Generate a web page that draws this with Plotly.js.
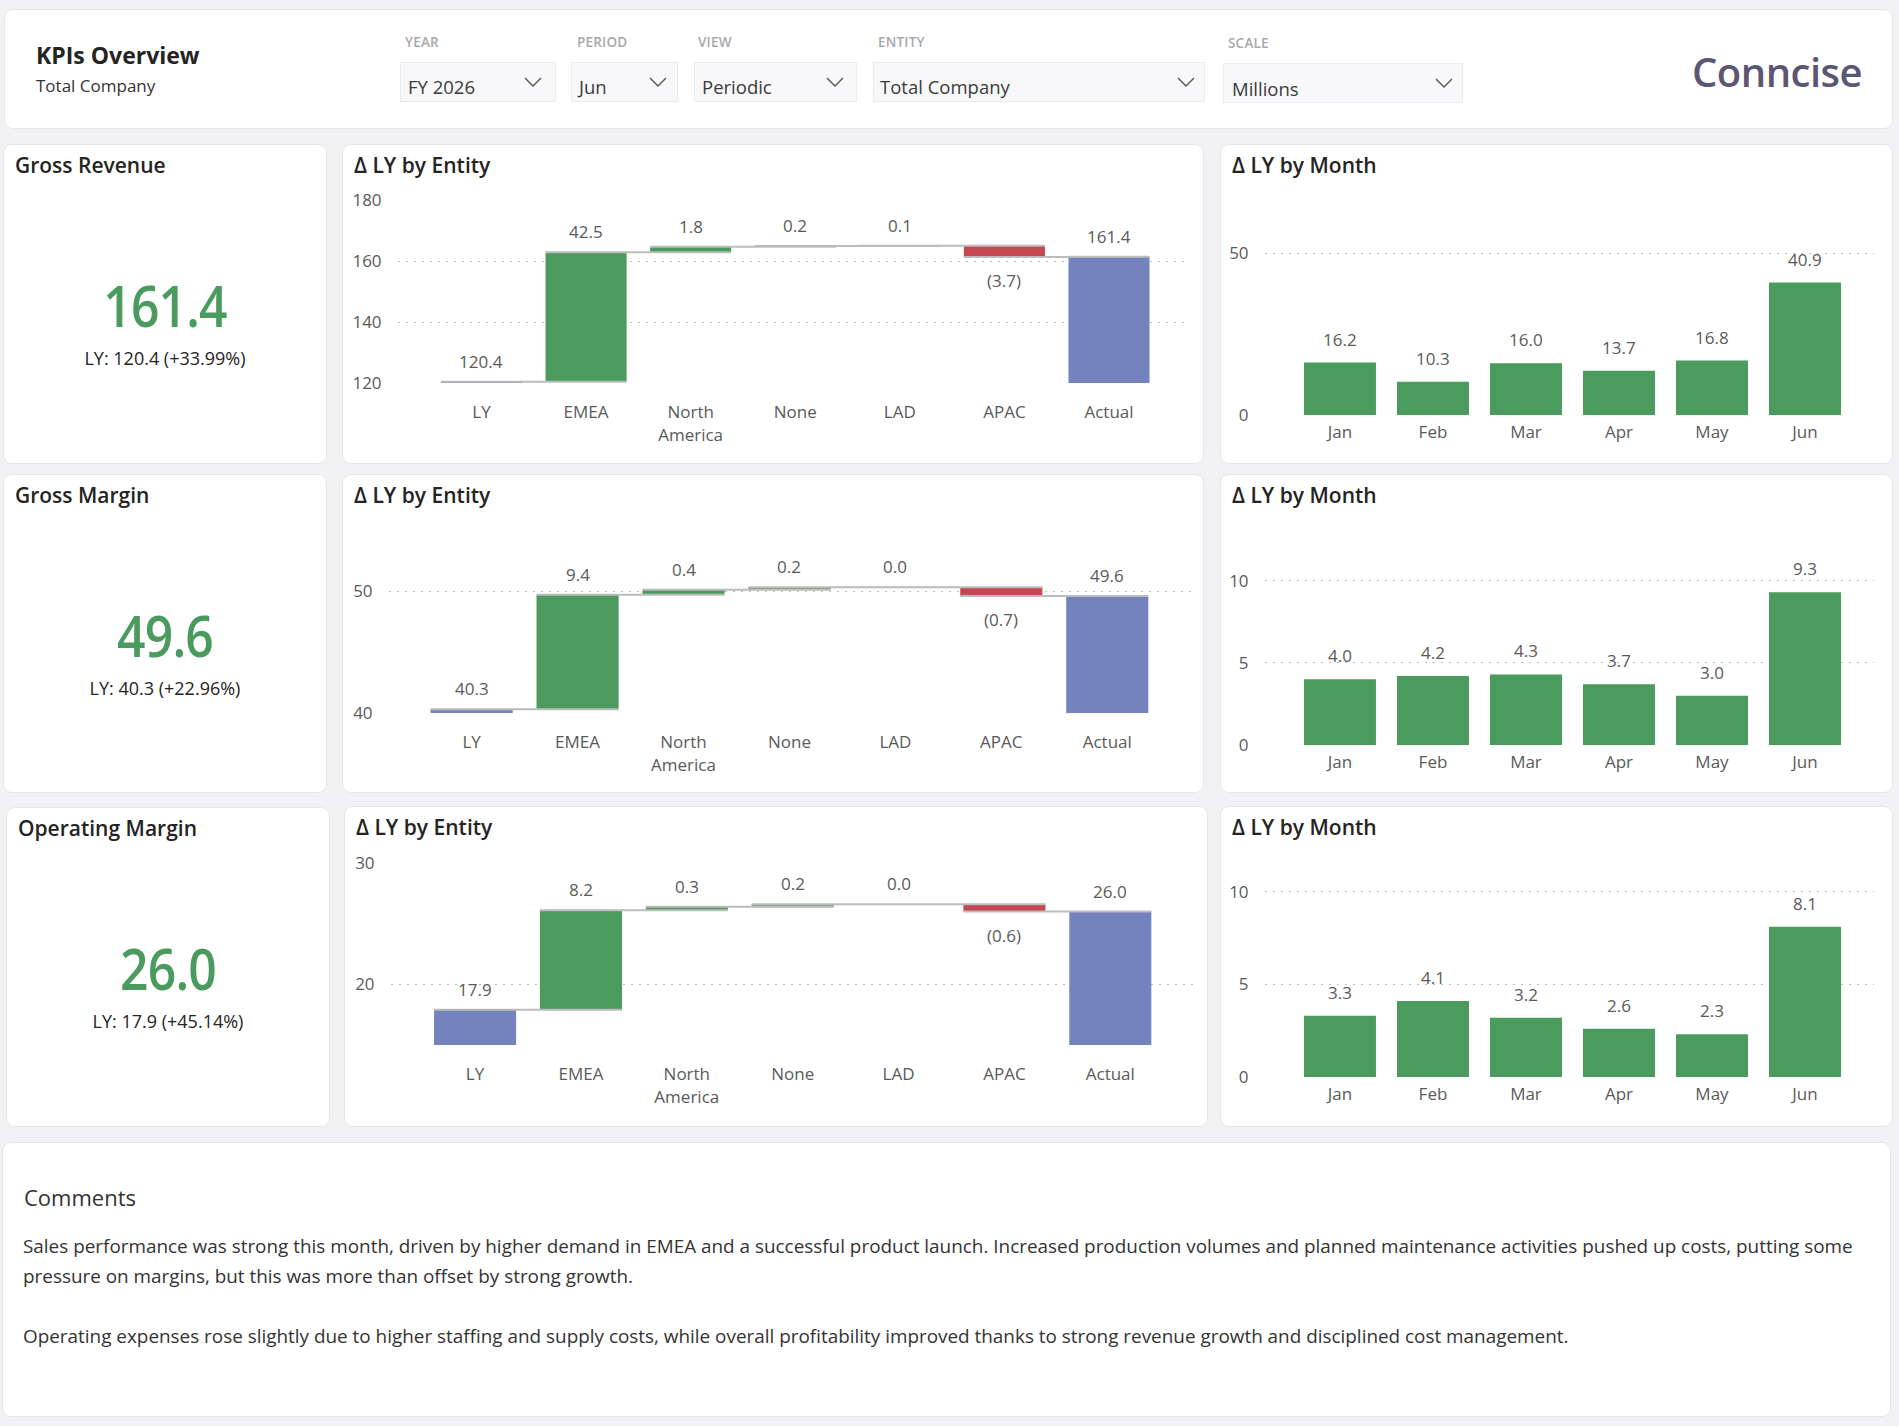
<!DOCTYPE html>
<html>
<head>
<meta charset="utf-8">
<script src="https://cdn.plot.ly/plotly-3.0.1.min.js"></script>
<style>
html,body{margin:0;padding:0;background:#f2f2f4;width:1899px;height:1426px;overflow:hidden;
  font-family:"Open Sans","Noto Sans",sans-serif;color:#252423;}
.card{position:absolute;background:#fff;border-radius:8px;box-shadow:0 0 0 1px #e7e7eb;}
.t{position:absolute;white-space:nowrap;line-height:1;transform:translateY(-50%);}
.tc{position:absolute;white-space:nowrap;line-height:1;transform:translate(-50%,-50%);}
.lbl{font-size:13.5px;font-weight:600;color:#a8a8ac;letter-spacing:0.2px;}
.dd{position:absolute;background:#f8f8fa;border:1px solid #ececef;box-sizing:border-box;}
.ddtext{font-size:18.5px;color:#3b3b3b;}
.title{font-size:21px;font-weight:600;color:#252423;}
.plot{position:absolute;}
.big{font-size:58px;font-weight:600;color:#4b9b5f;letter-spacing:-1px;}
.ly{font-size:18px;color:#252423;}
.para{font-size:18.9px;color:#333;}
</style>
</head>
<body>
<script>
// ---------------- DATA ----------------
const entityLabels = ['LY', 'EMEA', 'North<br>America', 'None', 'LAD', 'APAC', 'Actual'];
const bridgeMeasure = ['absolute', 'relative', 'relative', 'relative', 'relative', 'relative', 'absolute'];
const revenueBridge = [120.4, 42.5, 1.8, 0.2, 0.1, -3.7, 161.4];
const grossMarginBridge = [40.3, 9.4, 0.4, 0.2, 0.0, -0.7, 49.6];
const opMarginBridge = [17.9, 8.2, 0.3, 0.2, 0.0, -0.6, 26.0];

const monthLabels = ['Jan', 'Feb', 'Mar', 'Apr', 'May', 'Jun'];
const revenueByMonth = [16.2, 10.3, 16.0, 13.7, 16.8, 40.9];
const grossMarginByMonth = [4.0, 4.2, 4.3, 3.7, 3.0, 9.3];
const opMarginByMonth = [3.3, 4.1, 3.2, 2.6, 2.3, 8.1];

const kpiNames = ['Gross Revenue', 'Gross Margin', 'Operating Margin'];
const kpiActual = ['161.4', '49.6', '26.0'];
const kpiLY = ['120.4', '40.3', '17.9'];
const kpiChange = ['+33.99%', '+22.96%', '+45.14%'];

const filterLabels = ['YEAR', 'PERIOD', 'VIEW', 'ENTITY', 'SCALE'];
const filterValues = ['FY 2026', 'Jun', 'Periodic', 'Total Company', 'Millions'];

const commentLines = [
  'Sales performance was strong this month, driven by higher demand in EMEA and a successful product launch. Increased production volumes and planned maintenance activities pushed up costs, putting some',
  'pressure on margins, but this was more than offset by strong growth.',
  '',
  'Operating expenses rose slightly due to higher staffing and supply costs, while overall profitability improved thanks to strong revenue growth and disciplined cost management.'
];

// ---------------- STYLE ----------------
const FONT = '"Open Sans", "Noto Sans", sans-serif';
const GREEN = '#4b9b5f', RED = '#c54753', BLUE = '#7483be', GRID = '#bdbdbd', TXT = '#5a5a5a';

// ---------------- HELPERS ----------------
function place(el, x, y, w, h) {
  el.style.left = x + 'px'; el.style.top = y + 'px';
  if (w != null) el.style.width = w + 'px';
  if (h != null) el.style.height = h + 'px';
}
function card(x, y, w, h) {
  const d = document.createElement('div'); d.className = 'card';
  place(d, x, y, w, h); document.body.appendChild(d); return d;
}
function text(str, x, y, cls, centered) {
  const d = document.createElement('div');
  d.className = (centered ? 'tc ' : 't ') + (cls || '');
  d.textContent = str; place(d, x, y);
  document.body.appendChild(d); return d;
}
function chevron(x, y) {
  const s = document.createElementNS('http://www.w3.org/2000/svg', 'svg');
  s.setAttribute('width', '18'); s.setAttribute('height', '10');
  s.style.position = 'absolute'; s.style.left = (x - 9) + 'px'; s.style.top = (y - 5) + 'px';
  const p = document.createElementNS('http://www.w3.org/2000/svg', 'polyline');
  p.setAttribute('points', '1,1 9,9 17,1'); p.setAttribute('fill', 'none');
  p.setAttribute('stroke', '#555'); p.setAttribute('stroke-width', '1.4');
  s.appendChild(p); document.body.appendChild(s);
}

// ---------------- HEADER ----------------
card(5, 10, 1887, 118);
text('KPIs Overview', 36, 55, '', false).style.cssText += 'font-size:23px;font-weight:700;color:#252423;';
text('Total Company', 36, 85, '', false).style.cssText += 'font-size:17px;color:#333;';

const filterGeom = [
  {lx: 405, ly: 43, bx: 400, bw: 156, by: 62, bh: 40, tx: 408, ty: 87, cx: 533, cy: 82},
  {lx: 577, ly: 43, bx: 571, bw: 107, by: 62, bh: 40, tx: 579, ty: 87, cx: 658, cy: 82},
  {lx: 698, ly: 43, bx: 694, bw: 163, by: 62, bh: 40, tx: 702, ty: 87, cx: 835, cy: 82},
  {lx: 878, ly: 43, bx: 873, bw: 332, by: 62, bh: 40, tx: 880, ty: 87, cx: 1186, cy: 82},
  {lx: 1228, ly: 44, bx: 1223, bw: 240, by: 63, bh: 40, tx: 1232, ty: 89, cx: 1444, cy: 83}
];
filterGeom.forEach((g, i) => {
  text(filterLabels[i], g.lx, g.ly, 'lbl');
  const b = document.createElement('div'); b.className = 'dd';
  place(b, g.bx, g.by, g.bw, g.bh); document.body.appendChild(b);
  text(filterValues[i], g.tx, g.ty, 'ddtext');
  chevron(g.cx, g.cy);
});
text('Conncise', 1692, 72, '', false).style.cssText += 'font-size:40px;font-weight:600;color:#5b5673;letter-spacing:-0.5px;';

// ---------------- KPI CARDS ----------------
const kpiCards = [[4, 145, 322, 318], [4, 475, 322, 317], [7, 808, 322, 318]];
kpiCards.forEach((c, i) => {
  card(c[0], c[1], c[2], c[3]);
  text(kpiNames[i], c[0] + 11, c[1] + 20, 'title');
  const cx = c[0] + c[2] / 2;
  const big = text(kpiActual[i], cx, c[1] + 160, 'big', true);
  big.style.transform = 'translate(-50%,-50%) scaleX(0.86)';
  text('LY: ' + kpiLY[i] + ' (' + kpiChange[i] + ')', cx, c[1] + 213, 'ly', true);
});

// ---------------- CHARTS ----------------
const bridgeCharts = [
  {values: revenueBridge, card: [343, 145, 860, 318], plot: [398, 200, 1189, 383], xr: [-0.798, 6.765], yr: [120, 180], dtick: 20},
  {values: grossMarginBridge, card: [343, 475, 860, 317], plot: [389, 530, 1192, 713], xr: [-0.78, 6.80], yr: [40, 55], dtick: 10},
  {values: opMarginBridge, card: [345, 807, 862, 319], plot: [391, 863, 1195, 1045], xr: [-0.794, 6.80], yr: [15, 30], dtick: 10}
];
const monthCharts = [
  {values: revenueByMonth, card: [1221, 145, 671, 318], plot: [1265, 200, 1874, 415], yr: [0, 66.4], dtick: 50},
  {values: grossMarginByMonth, card: [1221, 475, 671, 317], plot: [1265, 530, 1874, 745], yr: [0, 13.1], dtick: 5},
  {values: opMarginByMonth, card: [1221, 807, 671, 319], plot: [1265, 862, 1874, 1077], yr: [0, 11.6], dtick: 5}
];

function baseLayout(c, xr, xTickLen) {
  return {
    width: c.card[2], height: c.card[3],
    margin: {l: c.plot[0] - c.card[0], r: c.card[0] + c.card[2] - c.plot[2],
             t: c.plot[1] - c.card[1], b: c.card[1] + c.card[3] - c.plot[3], pad: 0},
    paper_bgcolor: 'rgba(0,0,0,0)', plot_bgcolor: 'rgba(0,0,0,0)',
    showlegend: false,
    font: {family: FONT, size: 17, color: TXT},
    xaxis: {type: 'category', range: xr, autorange: false, showgrid: false, zeroline: false, showline: false,
            ticks: 'outside', ticklen: xTickLen, tickcolor: 'rgba(0,0,0,0)', fixedrange: true,
            tickfont: {family: FONT, size: 17, color: TXT}},
    yaxis: {range: c.yr, autorange: false, dtick: c.dtick, tick0: 0, showgrid: true, gridcolor: GRID,
            griddash: '2px,6px', gridwidth: 1, zeroline: false, showline: false,
            ticks: 'outside', ticklen: 12, tickcolor: 'rgba(0,0,0,0)', fixedrange: true,
            tickfont: {family: FONT, size: 17, color: TXT}},
    waterfallgap: 0.225, bargap: 0.226,
    annotations: []
  };
}

function addChartDiv(c) {
  const d = document.createElement('div'); d.className = 'plot';
  place(d, c.card[0], c.card[1], c.card[2], c.card[3]);
  document.body.appendChild(d); return d;
}

bridgeCharts.forEach(c => {
  card(c.card[0], c.card[1], c.card[2], c.card[3]);
  text('\u0394 LY by Entity', c.card[0] + 11, c.card[1] + 20, 'title');
  const div = addChartDiv(c);
  const layout = baseLayout(c, c.xr, 14);
  let run = 0;
  c.values.forEach((v, i) => {
    let neg = false;
    if (bridgeMeasure[i] === 'absolute') { run = v; } else { run += v; neg = v < 0; }
    layout.annotations.push({
      x: i, y: run, xref: 'x', yref: 'y', showarrow: false,
      text: neg ? '(' + Math.abs(v).toFixed(1) + ')' : v.toFixed(1),
      yanchor: neg ? 'top' : 'bottom', yshift: neg ? -10 : 7,
      font: {family: FONT, size: 17, color: TXT}
    });
  });
  const trace = {
    type: 'waterfall', x: entityLabels, y: c.values, measure: bridgeMeasure,
    increasing: {marker: {color: GREEN}}, decreasing: {marker: {color: RED}}, totals: {marker: {color: BLUE}},
    connector: {mode: 'spanning', line: {color: '#bcbcbc', width: 2}},
    textinfo: 'none', hoverinfo: 'skip', cliponaxis: true
  };
  Plotly.newPlot(div, [trace], layout, {staticPlot: true, displayModeBar: false});
});

monthCharts.forEach(c => {
  card(c.card[0], c.card[1], c.card[2], c.card[3]);
  text('\u0394 LY by Month', c.card[0] + 11, c.card[1] + 20, 'title');
  const div = addChartDiv(c);
  const layout = baseLayout(c, [-0.806, 5.742], 2);
  c.values.forEach((v, i) => {
    layout.annotations.push({
      x: i, y: v, xref: 'x', yref: 'y', showarrow: false, text: v.toFixed(1),
      yanchor: 'bottom', yshift: 10, font: {family: FONT, size: 17, color: TXT}
    });
  });
  const trace = {type: 'bar', x: monthLabels, y: c.values, marker: {color: GREEN}, hoverinfo: 'skip', textinfo: 'none'};
  Plotly.newPlot(div, [trace], layout, {staticPlot: true, displayModeBar: false});
});

// ---------------- COMMENTS ----------------
card(3, 1143, 1887, 273);
text('Comments', 24, 1197, '', false).style.cssText += 'font-size:22px;color:#333;';
const lineY = [1246, 1276, 1306, 1336];
commentLines.forEach((ln, i) => { if (ln) text(ln, 23, lineY[i], 'para'); });
</script>
</body>
</html>
